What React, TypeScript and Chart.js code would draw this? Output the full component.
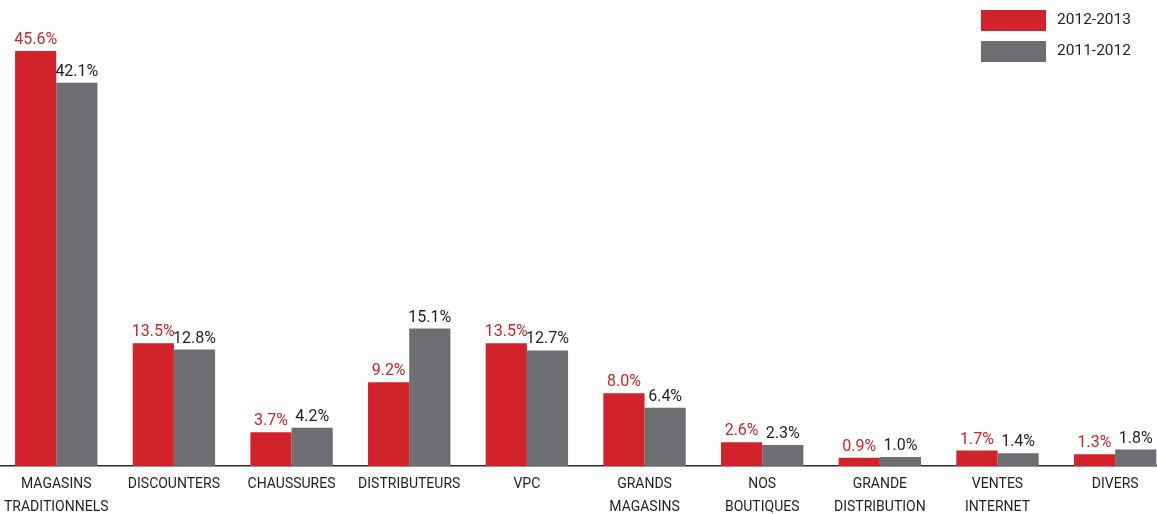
import React, { useEffect, useRef } from "react";
import { Chart, registerables } from "chart.js";

Chart.register(...registerables);

const categories: string[][] = [
  ["MAGASINS", "TRADITIONNELS"],
  ["DISCOUNTERS"],
  ["CHAUSSURES"],
  ["DISTRIBUTEURS"],
  ["VPC"],
  ["GRANDS", "MAGASINS"],
  ["NOS", "BOUTIQUES"],
  ["GRANDE", "DISTRIBUTION"],
  ["VENTES", "INTERNET"],
  ["DIVERS"],
];
const series2013 = [45.6, 13.5, 3.7, 9.2, 13.5, 8.0, 2.6, 0.9, 1.7, 1.3];
const series2012 = [42.1, 12.8, 4.2, 15.1, 12.7, 6.4, 2.3, 1.0, 1.4, 1.8];
const seriesNames = ["2012-2013", "2011-2012"];

const RED = "#d2232a";
const GRAY = "#6d6e71";
const TEXT = "#231f20";
const NUM_FONT = "Roboto, 'Liberation Sans', sans-serif";
const TICK_FONT = "Roboto, 'Liberation Sans', sans-serif";

const valueLabels = {
  id: "valueLabels",
  afterDatasetsDraw(chart: any) {
    const ctx = chart.ctx;
    ctx.save();
    ctx.font = `16px ${NUM_FONT}`;
    ctx.textAlign = "center";
    ctx.textBaseline = "alphabetic";
    chart.data.datasets.forEach((ds: any, di: number) => {
      const meta = chart.getDatasetMeta(di);
      ctx.fillStyle = di === 0 ? RED : TEXT;
      meta.data.forEach((el: any, i: number) => {
        const v = ds.data[i] as number;
        ctx.fillText(v.toFixed(1) + "%", el.x, el.y - 7);
      });
    });
    ctx.restore();
  },
};

const boxLegend = {
  id: "boxLegend",
  afterDraw(chart: any) {
    const ctx = chart.ctx;
    ctx.save();
    const colors = [RED, GRAY];
    ctx.font = `15.5px ${NUM_FONT}`;
    ctx.textAlign = "left";
    ctx.textBaseline = "middle";
    seriesNames.forEach((name, i) => {
      const y = 10 + i * 31;
      ctx.fillStyle = colors[i];
      ctx.fillRect(984, y, 65, 21);
      ctx.fillStyle = TEXT;
      ctx.fillText(name, 1060, y + 10.5);
    });
    ctx.restore();
  },
};

export default function App() {
  const ref = useRef<HTMLCanvasElement | null>(null);

  useEffect(() => {
    if (!ref.current) return;
    const chart = new Chart(ref.current, {
      type: "bar",
      data: {
        labels: categories,
        datasets: [
          {
            label: seriesNames[0],
            data: series2013,
            backgroundColor: RED,
            categoryPercentage: 0.7,
            barPercentage: 1.0,
          },
          {
            label: seriesNames[1],
            data: series2012,
            backgroundColor: GRAY,
            categoryPercentage: 0.7,
            barPercentage: 1.0,
          },
        ],
      },
      options: {
        responsive: false,
        animation: false,
        layout: { padding: 0 },
        plugins: {
          legend: { display: false },
          tooltip: { enabled: false },
        },
        scales: {
          x: {
            offset: true,
            grid: { display: true, drawOnChartArea: false, drawTicks: false, color: "transparent" },
            border: { display: true, color: "#2b2b2b", width: 1.5 },
            ticks: {
              color: TEXT,
              padding: 7,
              maxRotation: 0,
              autoSkip: false,
              font: { family: TICK_FONT, size: 14, lineHeight: "23px" } as any,
            },
            afterFit: (scale: any) => {
              scale.height = 48;
            },
          },
          y: {
            display: false,
            min: 0,
            max: 51.2,
          },
        },
      },
      plugins: [valueLabels, boxLegend],
    });
    return () => chart.destroy();
  }, []);

  return (
    <div
      style={{
        position: "fixed",
        left: 0,
        top: 0,
        width: 1157,
        height: 514,
        overflow: "hidden",
        background: "#fff",
      }}
    >
      <div style={{ position: "absolute", left: -3, top: 0, width: 1177, height: 514 }}>
        <canvas ref={ref} width={1177} height={514} />
      </div>
    </div>
  );
}
